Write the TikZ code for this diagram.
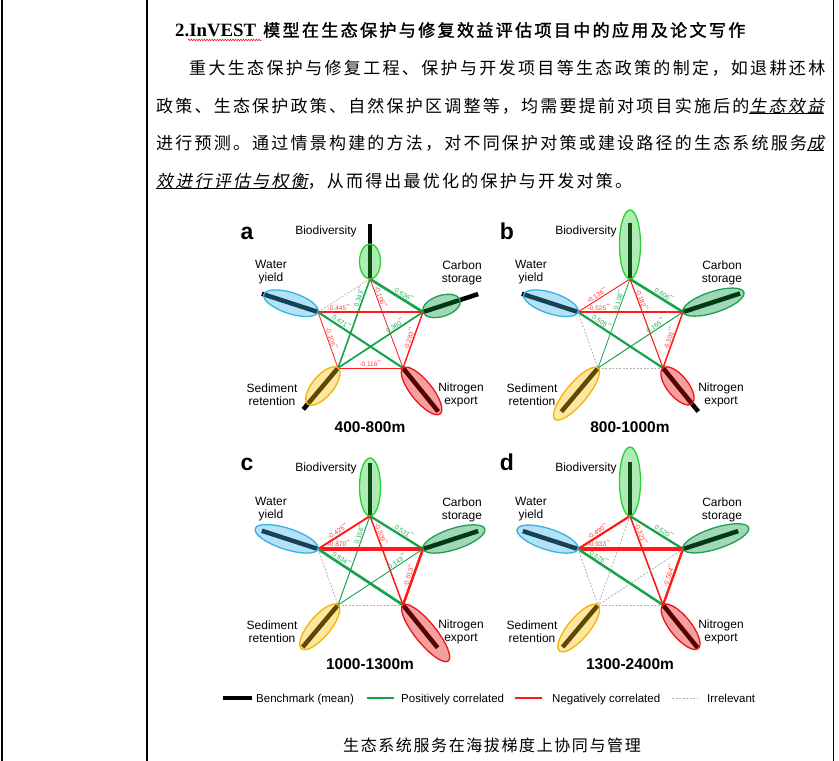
\documentclass[tikz,border=0pt]{standalone}
\usepackage{fontspec}
\setmainfont{Liberation Serif}
\setsansfont{Liberation Sans}
\newfontfamily\cjkhead{Noto Sans CJK SC}[LetterSpace=14,FakeBold=1.6]
\newfontfamily\cjkone{Noto Sans CJK SC}[LetterSpace=13.8]
\newfontfamily\cjktwo{Noto Sans CJK SC}[LetterSpace=13.0]
\newfontfamily\cjktwoit{Noto Sans CJK SC}[LetterSpace=13.0,FakeSlant=0.2]
\newfontfamily\cjkcap{Noto Sans CJK SC}[LetterSpace=10]
\usetikzlibrary{calc,shapes.geometric,decorations.pathmorphing}

\definecolor{posg}{RGB}{22,163,74}
\definecolor{negr}{RGB}{255,25,25}
\definecolor{irrg}{RGB}{178,178,178}
\definecolor{plabc}{RGB}{40,170,90}
\definecolor{nlabc}{RGB}{255,60,60}
\definecolor{bioE}{RGB}{40,210,50}
\definecolor{bioF}{RGB}{45,202,58}
\definecolor{watE}{RGB}{50,180,230}
\definecolor{watF}{RGB}{58,176,229}
\definecolor{carE}{RGB}{30,160,80}
\definecolor{carF}{RGB}{5,150,58}
\definecolor{sedE}{RGB}{245,180,0}
\definecolor{sedF}{RGB}{250,190,5}
\definecolor{nitE}{RGB}{240,20,20}
\definecolor{nitF}{RGB}{229,5,5}

\newcommand\myuline[1]{\setbox0=\hbox{#1}\rlap{\rule[-1.3pt]{\wd0}{0.9pt}}\box0}

\tikzset{
  posedge/.style={draw=posg, line width=#1},
  negedge/.style={draw=negr, line width=#1},
  irredge/.style={draw=irrg, line width=0.8pt, dash pattern=on 2pt off 1.5pt},
  plab/.style={font=\sffamily\fontsize{6.6}{6.6}\selectfont, text=plabc, sloped, above, inner sep=0.6pt},
  nlab/.style={font=\sffamily\fontsize{6.6}{6.6}\selectfont, text=nlabc, sloped, above, inner sep=0.6pt},
  barst/.style={draw=black, line width=4.5pt},
  ellst/.style={ellipse, minimum height=21pt, inner sep=0pt, line width=1.3pt, fill opacity=0.38},
  svclab/.style={font=\sffamily\fontsize{12}{13}\selectfont, align=center, inner sep=0pt},
  rangelab/.style={font=\sffamily\bfseries\fontsize{15.5}{16}\selectfont, inner sep=0pt},
  panlet/.style={font=\sffamily\bfseries\fontsize{23}{23}\selectfont, anchor=base, inner sep=0pt},
  legt/.style={font=\sffamily\fontsize{11.5}{12}\selectfont, anchor=base west, inner sep=0pt},
  tbl/.style={draw=black, line width=1.2pt},
  wavy/.style={draw=red, line width=0.5pt, decorate, decoration={snake, amplitude=0.8pt, segment length=2.6pt}},
}

\newcommand\esnode[7]{%
  \draw[barst] (#2) -- ++({-(#3)}:#5);
  \node[ellst, draw=#6, fill=#7, minimum width=#4pt, rotate=#3] (#1) at ($(#2)+({-(#3)}:{(#4)/2})$) {};}

\newcommand\panelbase[6]{%
\begin{scope}[shift={(#4,#5)}]
\coordinate (#1B) at (370,279);
\coordinate (#1W) at (318,312);
\coordinate (#1C) at (423,312);
\coordinate (#1S) at (338,368);
\coordinate (#1N) at (403,368);
\node[panlet] (#1let) at (247,#6) {#2};
\node[svclab] (#1Bl) at (326,231) {Biodiversity};
\node[svclab] (#1Wl) at (271,272.5) {Water\\yield};
\node[svclab] (#1Cl) at (462,272.5) {Carbon\\storage};
\node[svclab] (#1Sl) at (272,394.5) {Sediment\\retention};
\node[svclab] (#1Nl) at (461,394.5) {Nitrogen\\export};
\node[rangelab] (#1rng) at (370,427) {#3};
\end{scope}}

\begin{document}
\begin{tikzpicture}[x=1pt,y=-1pt]
\useasboundingbox (0,0) rectangle (839,761);

% table rules
\coordinate (t1a) at (2,-2); \coordinate (t1b) at (2,763);
\coordinate (t2a) at (147,-2); \coordinate (t2b) at (147,763);
\coordinate (t3a) at (833.5,-2); \coordinate (t3b) at (833.5,763);
\draw[tbl] (t1a) -- (t1b);
\draw[tbl] (t2a) -- (t2b);
\draw[tbl] (t3a) -- (t3b);

% heading
\node[anchor=base west, inner sep=0pt, font=\bfseries\fontsize{18.8}{19}\selectfont] (h1) at (175,36.5) {2.InVEST};
\node[anchor=base west, inner sep=0pt, font=\fontsize{17}{17}\selectfont] (h2) at (263,36.5) {\cjkhead 模型在生态保护与修复效益评估项目中的应用及论文写作};
\coordinate (wv1) at (188,40); \coordinate (wv2) at (262,40);
\draw[wavy] (wv1) -- (wv2);

% paragraph
\node[anchor=base west, inner sep=0pt, font=\fontsize{17}{17}\selectfont] (l1) at (189,74.8) {\cjkone 重大生态保护与修复工程、保护与开发项目等生态政策的制定，如退耕还林};
\node[anchor=base west, inner sep=0pt, font=\fontsize{17}{17}\selectfont] (l2) at (156,112.5) {\cjktwo 政策、生态保护政策、自然保护区调整等，均需要提前对项目实施后的\myuline{\cjktwoit 生态效益}};
\node[anchor=base west, inner sep=0pt, font=\fontsize{17}{17}\selectfont] (l3) at (156,149.8) {\cjktwo 进行预测。通过情景构建的方法，对不同保护对策或建设路径的生态系统服务\myuline{\cjktwoit 成}};
\node[anchor=base west, inner sep=0pt, font=\fontsize{17}{17}\selectfont] (l4) at (156,187.5) {\cjktwo\myuline{\cjktwoit 效进行评估与权衡}，从而得出最优化的保护与开发对策。};

% panels
\panelbase{a}{a}{400-800m}{0}{0}{239.5}
\panelbase{b}{b}{800-1000m}{260}{0}{239.5}
\panelbase{c}{c}{1000-1300m}{0}{237}{233}
\panelbase{d}{d}{1300-2400m}{260}{237}{233}

% panel a edges
\draw[irredge] (aB) -- (aW);
\draw[posedge=2.7pt] (aB) -- node[plab,pos=.6]{0.636\textsuperscript{**}} (aC);
\draw[posedge=1.6pt] (aB) -- node[plab,pos=.22]{0.343\textsuperscript{**}} (aS);
\draw[negedge=0.8pt] (aB) -- node[nlab,pos=.22]{-0.106\textsuperscript{**}} (aN);
\draw[negedge=2pt] (aW) -- node[nlab,pos=.2]{-0.445\textsuperscript{**}} (aC);
\draw[posedge=2.1pt] (aW) -- node[plab,pos=.25]{0.471\textsuperscript{**}} (aN);
\draw[negedge=0.8pt] (aW) -- node[nlab,pos=.5]{-0.106\textsuperscript{**}} (aS);
\draw[posedge=1.7pt] (aC) -- node[plab,pos=.3]{0.360\textsuperscript{**}} (aS);
\draw[negedge=1.4pt] (aC) -- node[nlab,pos=.5]{-0.283\textsuperscript{**}} (aN);
\draw[negedge=0.8pt] (aS) -- node[nlab,pos=.5]{-0.116\textsuperscript{**}} (aN);

% panel b edges
\draw[negedge=0.9pt] (bB) -- node[nlab,pos=.6]{-0.136\textsuperscript{**}} (bW);
\draw[posedge=2.6pt] (bB) -- node[plab,pos=.6]{0.606\textsuperscript{**}} (bC);
\draw[posedge=0.8pt] (bB) -- node[plab,pos=.25]{0.108\textsuperscript{**}} (bS);
\draw[negedge=1.1pt] (bB) -- node[nlab,pos=.25]{-0.182\textsuperscript{**}} (bN);
\draw[negedge=2.3pt] (bW) -- node[nlab,pos=.2]{-0.525\textsuperscript{**}} (bC);
\draw[posedge=2.2pt] (bW) -- node[plab,pos=.25]{0.505\textsuperscript{**}} (bN);
\draw[irredge] (bW) -- (bS);
\draw[posedge=1pt] (bC) -- node[plab,pos=.3]{0.165\textsuperscript{**}} (bS);
\draw[negedge=1.5pt] (bC) -- node[nlab,pos=.5]{-0.301\textsuperscript{**}} (bN);
\draw[irredge] (bS) -- (bN);

% panel c edges
\draw[negedge=1.9pt] (cB) -- node[nlab,pos=.58]{-0.425\textsuperscript{**}} (cW);
\draw[posedge=2.3pt] (cB) -- node[plab,pos=.6]{0.531\textsuperscript{**}} (cC);
\draw[posedge=1pt] (cB) -- node[plab,pos=.22]{0.156\textsuperscript{**}} (cS);
\draw[negedge=1.5pt] (cB) -- node[nlab,pos=.22]{-0.309\textsuperscript{**}} (cN);
\draw[negedge=3.5pt] (cW) -- node[nlab,pos=.2]{-0.870\textsuperscript{**}} (cC);
\draw[posedge=2.7pt] (cW) -- node[plab,pos=.25]{0.634\textsuperscript{**}} (cN);
\draw[irredge] (cW) -- (cS);
\draw[posedge=0.9pt] (cC) -- node[plab,pos=.28]{0.143\textsuperscript{**}} (cS);
\draw[negedge=2.6pt] (cC) -- node[nlab,pos=.5]{-0.613\textsuperscript{**}} (cN);
\draw[irredge] (cS) -- (cN);

% panel d edges
\draw[negedge=2.2pt] (dB) -- node[nlab,pos=.58]{-0.490\textsuperscript{**}} (dW);
\draw[posedge=2.3pt] (dB) -- node[plab,pos=.6]{0.520\textsuperscript{**}} (dC);
\draw[irredge] (dB) -- (dS);
\draw[negedge=1.6pt] (dB) -- node[nlab,pos=.22]{-0.321\textsuperscript{**}} (dN);
\draw[negedge=3.8pt] (dW) -- node[nlab,pos=.2]{-0.933\textsuperscript{**}} (dC);
\draw[posedge=2.5pt] (dW) -- node[plab,pos=.22]{0.576\textsuperscript{**}} (dN);
\draw[irredge] (dW) -- (dS);
\draw[irredge] (dC) -- (dS);
\draw[negedge=2.4pt] (dC) -- node[nlab,pos=.5]{-0.564\textsuperscript{**}} (dN);
\draw[irredge] (dS) -- (dN);

% bars and ellipses
\esnode{aBe}{aB}{90}{35}{55}{bioE}{bioF}
\esnode{aWe}{aW}{162}{57}{59}{watE}{watF}
\esnode{aCe}{aC}{18}{39}{58}{carE}{carF}
\esnode{aSe}{aS}{230}{47}{54}{sedE}{sedF}
\esnode{aNe}{aN}{-51}{59}{56}{nitE}{nitF}

\esnode{bBe}{bB}{90}{69}{56}{bioE}{bioF}
\esnode{bWe}{bW}{162}{57}{59}{watE}{watF}
\esnode{bCe}{bC}{18}{64}{60}{carE}{carF}
\esnode{bSe}{bS}{230}{67}{57}{sedE}{sedF}
\esnode{bNe}{bN}{-51}{46}{56}{nitE}{nitF}

\esnode{cBe}{cB}{90}{58}{53}{bioE}{bioF}
\esnode{cWe}{cW}{162}{66}{59}{watE}{watF}
\esnode{cCe}{cC}{18}{65}{58}{carE}{carF}
\esnode{cSe}{cS}{230}{57}{55}{sedE}{sedF}
\esnode{cNe}{cN}{-51}{72}{55}{nitE}{nitF}

\esnode{dBe}{dB}{90}{69}{54}{bioE}{bioF}
\esnode{dWe}{dW}{162}{64}{58}{watE}{watF}
\esnode{dCe}{dC}{18}{69}{58}{carE}{carF}
\esnode{dSe}{dS}{230}{60}{55}{sedE}{sedF}
\esnode{dNe}{dN}{-51}{56}{55}{nitE}{nitF}

% legend
\coordinate (lg1a) at (223,698); \coordinate (lg1b) at (252,698);
\coordinate (lg2a) at (367,698); \coordinate (lg2b) at (394,698);
\coordinate (lg3a) at (515,698); \coordinate (lg3b) at (542,698);
\coordinate (lg4a) at (672,698); \coordinate (lg4b) at (698,698);
\draw[barst] (lg1a) -- (lg1b);
\node[legt] (lg1t) at (256,702) {Benchmark (mean)};
\draw[posedge=2pt] (lg2a) -- (lg2b);
\node[legt] (lg2t) at (401,702) {Positively correlated};
\draw[negedge=2pt] (lg3a) -- (lg3b);
\node[legt] (lg3t) at (552,702) {Negatively correlated};
\draw[irredge] (lg4a) -- (lg4b);
\node[legt] (lg4t) at (707,702) {Irrelevant};

% caption
\node[inner sep=0pt, font=\fontsize{16}{16}\selectfont] (cap) at (492,745) {\cjkcap 生态系统服务在海拔梯度上协同与管理};
\end{tikzpicture}
\end{document}
